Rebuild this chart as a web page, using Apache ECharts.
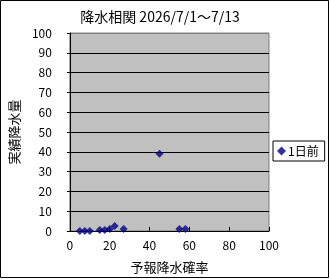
<!DOCTYPE html>
<html><head><meta charset="utf-8">
<script src="https://cdn.jsdelivr.net/npm/echarts@6/dist/echarts.min.js"></script>
<style>html,body{margin:0;padding:0;background:#fff}#c{width:330px;height:279px}</style>
</head><body><div id="c"></div>
<script>
const title = "降水相関 2026/7/1～7/13";
const xName = "予報降水確率";
const yName = "実績降水量";
const seriesName = "1日前";
const forecastProb = [5, 7.5, 10, 15, 17.5, 20, 22.5, 27, 45, 55, 58];
const actualRain  = [0, 0, 0, 0.5, 0.5, 1, 2.5, 1, 39, 1, 1];

const font = '"Noto Sans CJK JP", sans-serif';
const gridColors = ['#000','#000','#000','#000','#000','#000','#000','#000','#000','#000','#808080'];
const chart = echarts.init(document.getElementById('c'));
chart.setOption({
  animation: false,
  backgroundColor: '#fff',
  title: {text: title, left: 155, top: 5, textAlign: 'center',
    textStyle: {fontFamily: font, fontSize: 14, fontWeight: 'normal', color: '#000'}},
  grid: {left: 62, top: 33, right: 61, bottom: 48, show: true,
    backgroundColor: '#c0c0c0', borderColor: '#808080', borderWidth: 1},
  legend: {left: 273, top: 141, orient: 'vertical', data: [seriesName],
    backgroundColor: '#fff', borderColor: '#000', borderWidth: 1,
    padding: [4, 6, 4, 4], itemWidth: 9, itemHeight: 9, itemGap: 0,
    textStyle: {fontFamily: font, fontSize: 12, color: '#000', padding: [0,0,0,-3]}},
  xAxis: {type: 'value', min: 0, max: 100, interval: 20,
    name: xName, nameLocation: 'middle', nameGap: 30,
    nameTextStyle: {fontFamily: font, fontSize: 13, color: '#000'},
    axisLine: {show: true, onZero: false, lineStyle: {color: '#000'}},
    axisTick: {show: true, inside: true, length: 4, lineStyle: {color: '#000'}},
    axisLabel: {fontFamily: font, fontSize: 12, color: '#000', margin: 8},
    splitLine: {show: false}},
  yAxis: {type: 'value', min: 0, max: 100, interval: 10,
    name: yName, nameLocation: 'middle', nameGap: 38, nameRotate: 90,
    nameTextStyle: {fontFamily: font, fontSize: 13, color: '#000'},
    axisLine: {show: true, onZero: false, lineStyle: {color: '#000'}},
    axisTick: {show: true, length: 3, lineStyle: {color: '#000'}},
    axisLabel: {fontFamily: font, fontSize: 12, color: '#000', margin: 18},
    splitLine: {show: true, lineStyle: {color: gridColors, width: 1}}},
  series: [{name: seriesName, type: 'scatter', symbol: 'diamond', symbolSize: 8,
    itemStyle: {color: '#000080'},
    data: forecastProb.map((x, i) => [x, actualRain[i]])}],
  graphic: [{type: 'rect', shape: {x: 0.5, y: 0.5, width: 328, height: 277},
    style: {fill: 'none', stroke: '#000', lineWidth: 1}, silent: true}]
});
</script></body></html>
